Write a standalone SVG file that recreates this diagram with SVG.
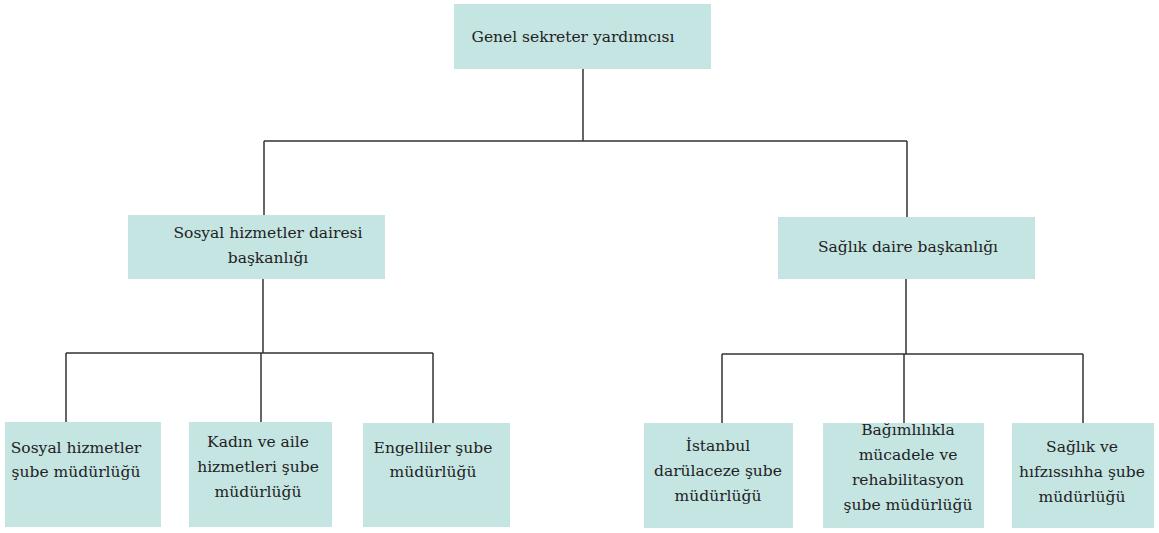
<svg xmlns="http://www.w3.org/2000/svg" width="1159" height="533" viewBox="0 0 1159 533">
<style>
.box{fill:#c5e5e3;}
text{font-family:"DejaVu Serif",serif;font-size:15.5px;fill:#222;text-anchor:middle;}
.c{stroke:#333;stroke-width:1.5;fill:none;}
</style>
<rect width="1159" height="533" fill="#fff"/>
<g id="connectors">
<path class="c" d="M583,69 V141 M264,141 H907 M264,141 V215 M907,141 V217"/>
<path class="c" d="M263,279 V353 M66,353 H433 M66,353 V422 M261,353 V422 M433,353 V423"/>
<path class="c" d="M906,279 V354 M722,354 H1083 M722,354 V423 M904,354 V423 M1083,354 V423"/>
</g>
<g id="n-top"><rect class="box" x="454" y="4" width="257" height="65"/><text x="573" y="42">Genel sekreter yardımcısı</text></g>
<g id="n-sosyal"><rect class="box" x="128" y="215" width="257" height="64"/><text x="268" y="238">Sosyal hizmetler dairesi</text><text x="268" y="263">başkanlığı</text></g>
<g id="n-saglik"><rect class="box" x="778" y="217" width="257" height="62"/><text x="908" y="252">Sağlık daire başkanlığı</text></g>
<g id="n-b1"><rect class="box" x="5" y="422" width="156" height="105"/><text x="76" y="453">Sosyal hizmetler</text><text x="76" y="477">şube müdürlüğü</text></g>
<g id="n-b2"><rect class="box" x="189" y="422" width="143" height="105"/><text x="258" y="447">Kadın ve aile</text><text x="258" y="472">hizmetleri şube</text><text x="258" y="497">müdürlüğü</text></g>
<g id="n-b3"><rect class="box" x="363" y="423" width="147" height="104"/><text x="433" y="453">Engelliler şube</text><text x="433" y="477">müdürlüğü</text></g>
<g id="n-b4"><rect class="box" x="644" y="423" width="149" height="105"/><text x="718" y="451">İstanbul</text><text x="718" y="476">darülaceze şube</text><text x="718" y="501">müdürlüğü</text></g>
<g id="n-b5"><rect class="box" x="823" y="423" width="161" height="105"/><text x="908" y="435">Bağımlılıkla</text><text x="908" y="460">mücadele ve</text><text x="908" y="485">rehabilitasyon</text><text x="908" y="510">şube müdürlüğü</text></g>
<g id="n-b6"><rect class="box" x="1012" y="423" width="142" height="105"/><text x="1082" y="452">Sağlık ve</text><text x="1082" y="477">hıfzıssıhha şube</text><text x="1082" y="502">müdürlüğü</text></g>
</svg>
